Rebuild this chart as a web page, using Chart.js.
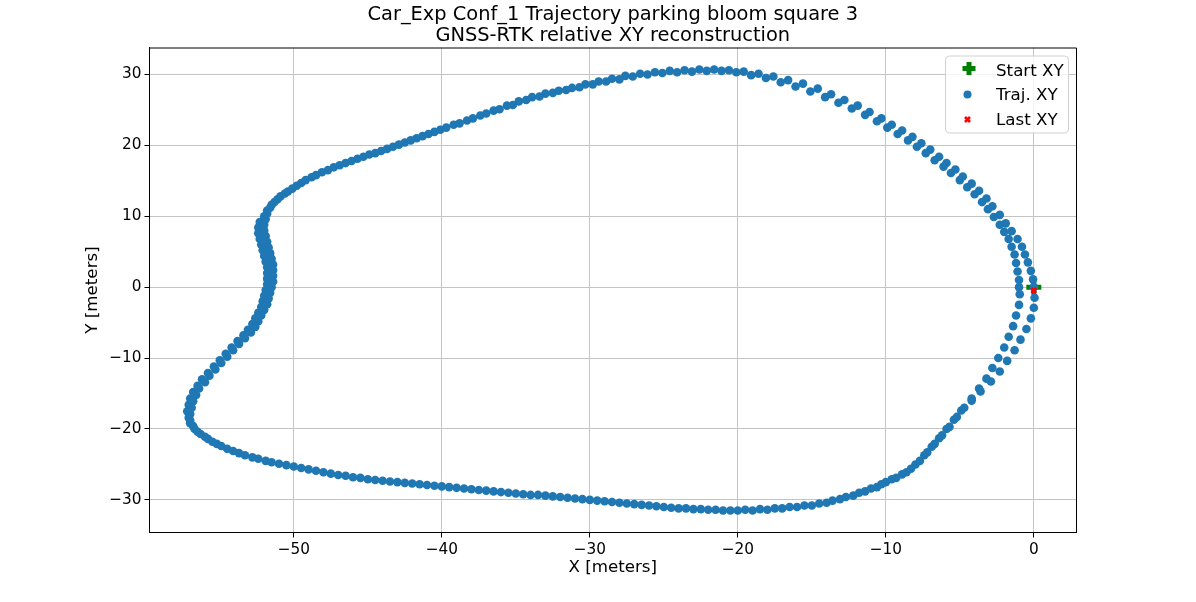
<!DOCTYPE html>
<html>
<head>
<meta charset="utf-8">
<script src="https://cdn.jsdelivr.net/npm/chart.js@4/dist/chart.umd.min.js"></script>
<style>
  html, body { margin: 0; padding: 0; background: #fff; }
  #wrap { width: 1196px; height: 602px; }
</style>
</head>
<body>
<div id="wrap"><canvas id="myChart" width="1196" height="602"></canvas></div>
<script>
// textos de la figura
const tituloLineas = ['Car_Exp Conf_1 Trajectory parking bloom square 3', 'GNSS-RTK relative XY reconstruction'];
const etiquetaX = 'X [meters]';
const etiquetaY = 'Y [meters]';
const leyenda = ['Start XY', 'Traj. XY', 'Last XY'];

// ticks de los ejes
const ticksX = [-50, -40, -30, -20, -10, 0];
const ticksY = [-30, -20, -10, 0, 10, 20, 30];

// primera vuelta (por fuera en el lado derecho)
const vuelta1X = [0.0, -0.05, -0.2, -0.4, -0.6, -0.8, -1.1, -1.5, -1.9, -2.3, -2.8, -3.2, -3.7, -4.2, -4.8, -5.3, -5.9, -6.4, -7.0, -7.6,
  -8.2, -8.9, -9.6, -10.3, -11.1, -11.9, -12.8, -13.7, -14.6, -15.6, -16.6, -17.6, -18.6, -19.6, -20.6, -21.6, -22.6, -23.6, -24.6, -25.6,
  -26.6, -27.6, -28.5, -29.4, -30.3, -31.2, -32.1, -33.0, -33.9, -34.8, -35.6, -36.5, -37.4, -38.3, -39.2, -40.1, -40.9, -41.7, -42.5, -43.3,
  -44.1, -44.9, -45.7, -46.5, -47.3, -48.1, -48.8, -49.5, -50.1, -50.6, -51.1, -51.5, -51.8, -52.0, -52.3, -52.4, -52.4, -52.3, -52.2, -52.1,
  -52.0, -51.9, -51.8, -51.8, -51.8, -51.8, -51.9, -52.0, -52.1, -52.2, -52.4, -52.6, -52.8, -53.1, -53.4, -53.8, -54.2, -54.6, -55.0, -55.4,
  -55.8, -56.2, -56.5, -56.8, -57.0, -57.1, -57.2, -57.1, -57.0, -56.7, -56.3, -55.8, -55.2, -54.5, -53.7, -52.8, -51.9, -51.0, -50.0, -49.0,
  -48.0, -47.0, -46.0, -45.0, -44.0, -43.0, -42.0, -41.0, -40.0, -39.0, -38.0, -37.0, -36.0, -35.0, -34.0, -33.0, -32.0, -31.0, -30.0, -29.0,
  -28.0, -27.0, -26.0, -25.0, -24.0, -23.0, -22.0, -21.0, -20.0, -19.0, -18.0, -17.0, -16.0, -15.0, -14.0, -13.1, -12.2, -11.4, -10.6, -10.0,
  -9.3, -8.6, -8.0, -7.4, -6.9, -6.4, -5.9, -5.4, -4.9, -4.2, -3.6, -2.9, -2.3, -1.8, -1.3, -0.9, -0.5, -0.2, 0.0, 0.05];
const vuelta1Y = [0.0, 1.1, 2.3, 3.5, 4.6, 5.7, 6.8, 7.9, 9.0, 10.2, 11.4, 12.5, 13.6, 14.6, 15.6, 16.6, 17.5, 18.4, 19.4, 20.3,
  21.2, 22.1, 22.9, 23.8, 24.7, 25.6, 26.4, 27.2, 28.0, 28.7, 29.2, 29.7, 30.1, 30.4, 30.6, 30.7, 30.7, 30.6, 30.5, 30.3,
  30.1, 29.8, 29.4, 29.0, 28.6, 28.1, 27.7, 27.3, 26.8, 26.2, 25.6, 24.9, 24.2, 23.5, 22.9, 22.2, 21.6, 21.0, 20.4, 19.8,
  19.2, 18.7, 18.1, 17.5, 16.9, 16.2, 15.5, 14.7, 13.9, 13.2, 12.4, 11.6, 10.8, 10.0, 9.2, 8.4, 7.6, 6.8, 6.0, 5.2,
  4.4, 3.6, 2.8, 2.0, 1.2, 0.4, -0.4, -1.2, -2.0, -2.8, -3.6, -4.4, -5.2, -6.0, -6.8, -7.6, -8.5, -9.4, -10.3, -11.2,
  -12.1, -13.0, -13.9, -14.8, -15.7, -16.6, -17.5, -18.4, -19.2, -20.0, -20.7, -21.4, -22.1, -22.8, -23.4, -24.0, -24.5, -24.9, -25.3, -25.7,
  -26.1, -26.5, -26.8, -27.1, -27.3, -27.5, -27.7, -27.9, -28.1, -28.3, -28.5, -28.7, -28.9, -29.1, -29.3, -29.4, -29.6, -29.8, -30.0, -30.2,
  -30.4, -30.6, -30.8, -31.0, -31.2, -31.3, -31.4, -31.5, -31.5, -31.5, -31.4, -31.2, -31.0, -30.8, -30.4, -29.9, -29.4, -28.8, -28.2, -27.5,
  -26.9, -26.1, -25.0, -23.7, -22.5, -21.3, -20.0, -18.7, -17.4, -16.0, -14.7, -13.3, -11.9, -10.4, -8.9, -7.4, -5.9, -4.4, -2.9, -1.5];

// segunda vuelta (por dentro en el lado derecho)
const vuelta2X = [-1.0, -1.0, -1.1, -1.2, -1.3, -1.5, -1.7, -2.0, -2.3, -2.7, -3.1, -3.5, -4.0, -4.5, -5.0, -5.6, -6.1, -6.7, -7.3, -7.9,
  -8.5, -9.2, -9.9, -10.6, -11.4, -12.3, -13.2, -14.1, -15.1, -16.1, -17.1, -18.1, -19.1, -20.1, -21.1, -22.1, -23.1, -24.1, -25.1, -26.1,
  -27.1, -28.0, -28.9, -29.8, -30.7, -31.6, -32.5, -33.4, -34.3, -35.2, -36.1, -37.0, -37.9, -38.8, -39.7, -40.5, -41.3, -42.1, -42.9, -43.7,
  -44.5, -45.3, -46.1, -46.9, -47.7, -48.5, -49.2, -49.8, -50.4, -50.9, -51.3, -51.6, -51.8, -51.9, -52.0, -52.0, -51.9, -51.8, -51.7, -51.6,
  -51.5, -51.4, -51.4, -51.4, -51.4, -51.5, -51.6, -51.7, -51.8, -52.0, -52.2, -52.4, -52.6, -52.9, -53.3, -53.7, -54.1, -54.5, -54.9, -55.3,
  -55.7, -56.0, -56.4, -56.6, -56.8, -56.9, -57.0, -57.0, -56.8, -56.5, -56.0, -55.5, -54.9, -54.1, -53.3, -52.4, -51.5, -50.5, -49.5, -48.5,
  -47.5, -46.5, -45.5, -44.5, -43.5, -42.5, -41.5, -40.5, -39.5, -38.5, -37.5, -36.5, -35.5, -34.5, -33.5, -32.5, -31.5, -30.5, -29.5, -28.5,
  -27.5, -26.5, -25.5, -24.5, -23.5, -22.5, -21.5, -20.5, -19.5, -18.5, -17.5, -16.5, -15.5, -14.5, -13.6, -12.7, -11.8, -11.0, -10.3, -9.6,
  -8.9, -8.3, -7.7, -7.2, -6.7, -6.2, -5.7, -5.2, -4.7, -4.2, -3.7, -3.2, -2.8, -2.4, -2.0, -1.7, -1.4, -1.2, -1.0, -0.95];
const vuelta2Y = [0.0, 1.0, 2.2, 3.4, 4.6, 5.7, 6.8, 7.8, 8.8, 9.9, 11.0, 12.0, 13.1, 14.1, 15.1, 16.1, 17.0, 17.9, 18.9, 19.8,
  20.7, 21.6, 22.5, 23.4, 24.3, 25.2, 26.0, 26.8, 27.6, 28.3, 28.9, 29.5, 29.9, 30.3, 30.5, 30.5, 30.4, 30.3, 30.2, 30.0,
  29.7, 29.3, 29.0, 28.6, 28.2, 27.8, 27.4, 26.9, 26.4, 25.7, 25.1, 24.5, 23.8, 23.1, 22.5, 21.9, 21.3, 20.7, 20.1, 19.5,
  18.9, 18.4, 17.8, 17.2, 16.5, 15.8, 15.1, 14.3, 13.5, 12.8, 12.0, 11.2, 10.4, 9.6, 8.8, 8.0, 7.2, 6.4, 5.6, 4.8,
  4.0, 3.2, 2.4, 1.6, 0.8, 0.0, -0.8, -1.6, -2.4, -3.2, -4.0, -4.8, -5.6, -6.4, -7.2, -8.0, -8.9, -9.8, -10.7, -11.6,
  -12.5, -13.4, -14.3, -15.2, -16.1, -17.0, -17.9, -18.8, -19.6, -20.4, -21.1, -21.8, -22.4, -23.1, -23.7, -24.2, -24.7, -25.1, -25.5, -25.9,
  -26.3, -26.6, -26.9, -27.2, -27.4, -27.6, -27.8, -28.0, -28.2, -28.4, -28.6, -28.8, -29.0, -29.2, -29.3, -29.5, -29.7, -29.9, -30.1, -30.3,
  -30.5, -30.7, -30.9, -31.1, -31.2, -31.3, -31.4, -31.5, -31.4, -31.3, -31.2, -31.0, -30.8, -30.5, -30.1, -29.6, -29.0, -28.4, -27.8, -27.1,
  -26.4, -25.6, -24.5, -23.3, -22.1, -20.9, -19.7, -18.3, -17.0, -15.7, -14.3, -12.9, -11.4, -10.0, -8.5, -7.0, -5.5, -4.0, -2.5, -1.0];

// punto inicial y final
const inicioX = [0.0];
const inicioY = [0.0];
const finalX = [0.0];
const finalY = [-0.45];

const FUENTE = 'DejaVu Sans';

// juntamos x e y en puntos para el scatter
const aPuntos = (xs, ys) => xs.map((x, i) => ({ x: x, y: ys[i] }));
const trayectoria = aPuntos(vuelta1X, vuelta1Y).concat(aPuntos(vuelta2X, vuelta2Y));

const menos = v => String(v).replace('-', '\u2212');

// plugin para titulo, marco completo y leyenda dentro del grafico (estilo matplotlib)
const extras = {
  id: 'extras',
  afterDraw(chart) {
    const ctx = chart.ctx;
    const a = chart.chartArea;
    ctx.save();
    // marco arriba y derecha
    ctx.strokeStyle = '#000';
    ctx.lineWidth = 1;
    ctx.beginPath();
    ctx.moveTo(a.left, a.top + 0.5);
    ctx.lineTo(a.right + 0.5, a.top + 0.5);
    ctx.lineTo(a.right + 0.5, a.bottom);
    ctx.stroke();

    // titulo centrado sobre el area
    ctx.fillStyle = '#000';
    ctx.font = '19.4px "' + FUENTE + '"';
    ctx.textAlign = 'center';
    ctx.textBaseline = 'alphabetic';
    const cx = (a.left + a.right) / 2;
    ctx.fillText(tituloLineas[0], cx, 19.5);
    ctx.fillText(tituloLineas[1], cx, 41);

    // leyenda
    const lx = 945.5, ly = 56, lw = 123, lh = 77;
    ctx.beginPath();
    ctx.roundRect(lx, ly, lw, lh, 4);
    ctx.fillStyle = 'rgba(255,255,255,0.8)';
    ctx.fill();
    ctx.strokeStyle = '#d0d0d0';
    ctx.stroke();

    // marcador start (cruz verde rellena)
    ctx.fillStyle = '#008000';
    ctx.fillRect(962.5, 68.5 - 2.5, 13, 5);
    ctx.fillRect(969 - 2.5, 62, 5, 13);
    // marcador trayectoria
    ctx.fillStyle = '#1f77b4';
    ctx.beginPath();
    ctx.arc(967.5, 94.5, 4, 0, Math.PI * 2);
    ctx.fill();
    // marcador last (x roja)
    ctx.strokeStyle = '#ff0000';
    ctx.lineWidth = 2.6;
    ctx.beginPath();
    ctx.moveTo(965, 117); ctx.lineTo(970, 122);
    ctx.moveTo(970, 117); ctx.lineTo(965, 122);
    ctx.stroke();

    ctx.fillStyle = '#000';
    ctx.font = '16.7px "' + FUENTE + '"';
    ctx.textAlign = 'left';
    ctx.fillText(leyenda[0], 996, 76);
    ctx.fillText(leyenda[1], 996, 100);
    ctx.fillText(leyenda[2], 996, 124.5);
    ctx.restore();
  }
};

const ctx = document.getElementById('myChart');
new Chart(ctx, {
  type: 'scatter',
  data: {
    datasets: [
      {
        label: leyenda[0],
        data: aPuntos(inicioX, inicioY),
        pointStyle: 'cross',
        pointRadius: 7.5,
        borderWidth: 5,
        borderColor: '#008000',
        backgroundColor: '#008000',
        order: 2
      },
      {
        label: leyenda[1],
        data: trayectoria,
        pointStyle: 'circle',
        pointRadius: 4.3,
        borderWidth: 0,
        backgroundColor: '#1f77b4',
        borderColor: '#1f77b4',
        order: 1
      },
      {
        label: leyenda[2],
        data: aPuntos(finalX, finalY),
        pointStyle: 'crossRot',
        pointRadius: 3.5,
        borderWidth: 2.6,
        borderColor: '#ff0000',
        backgroundColor: '#ff0000',
        order: 0
      }
    ]
  },
  options: {
    responsive: false,
    animation: false,
    devicePixelRatio: 1,
    layout: { padding: { left: 0, top: 47.5, right: 120, bottom: 0 } },
    plugins: {
      legend: { display: false },
      title: { display: false },
      tooltip: { enabled: false }
    },
    scales: {
      x: {
        type: 'linear',
        min: -59.75,
        max: 2.85,
        z: 1,
        afterFit: s => { s.height = 69.5; },
        afterBuildTicks: s => { s.ticks = ticksX.map(v => ({ value: v })); },
        ticks: {
          callback: menos,
          color: '#000',
          padding: 3,
          maxRotation: 0,
          font: { family: FUENTE, size: 15.3 }
        },
        grid: { color: '#c4c4c4', lineWidth: 1, tickLength: 5, tickColor: '#000', tickWidth: 1 },
        border: { color: '#000', width: 1 },
        title: {
          display: true,
          text: etiquetaX,
          color: '#000',
          font: { family: FUENTE, size: 16.7 },
          padding: { top: 0, bottom: 24 }
        }
      },
      y: {
        type: 'linear',
        min: -34.6,
        max: 33.8,
        z: 1,
        afterFit: s => { s.width = 149.5; },
        afterBuildTicks: s => { s.ticks = ticksY.map(v => ({ value: v })); },
        ticks: {
          callback: menos,
          color: '#000',
          padding: 3,
          font: { family: FUENTE, size: 15.3 }
        },
        grid: { color: '#c4c4c4', lineWidth: 1, tickLength: 5, tickColor: '#000', tickWidth: 1 },
        border: { color: '#000', width: 1 },
        title: {
          display: true,
          text: etiquetaY,
          color: '#000',
          font: { family: FUENTE, size: 16.7 },
          padding: { top: 83, bottom: 0 }
        }
      }
    }
  },
  plugins: [extras]
});
</script>
</body>
</html>
